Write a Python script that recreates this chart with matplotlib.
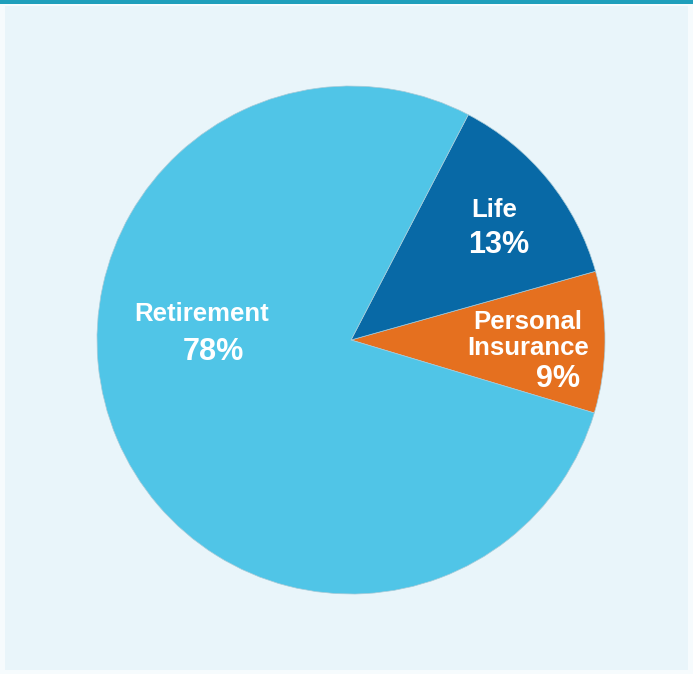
import matplotlib.pyplot as plt
from matplotlib.patches import Rectangle

# datos del grafico
labels = ["Personal\nInsurance", "Life", "Retirement"]
values = [9, 13, 78]
colors = ["#e5701f", "#0869a6", "#50c5e7"]

fig = plt.figure(figsize=(6.93, 6.74), dpi=100)
fig.patch.set_facecolor("#f6fbfd")
ax = fig.add_axes([0, 0, 1, 1])

# panel de fondo y linea superior
ax.add_patch(Rectangle((5, 4), 683, 664, facecolor="#e9f5fa", edgecolor="none", zorder=0))
ax.add_patch(Rectangle((0, 670), 693, 4, facecolor="#1f9fbb", edgecolor="none", zorder=0))

wedges, _ = ax.pie(values, colors=colors, startangle=-16.7, counterclock=True,
                   center=(351, 334), radius=254, frame=True,
                   wedgeprops=dict(linewidth=0.5, edgecolor="#a9cbd8"))
ax.set_xlim(0, 693)
ax.set_ylim(0, 674)
ax.set_aspect("equal")
ax.axis("off")

txt = dict(color="white", fontweight="bold", family="Liberation Sans")
ax.text(202, 360, "Retirement", fontsize=18.5, ha="center", va="center", **txt)
ax.text(213, 322, f"{values[2]}%", fontsize=22, ha="center", va="center", **txt)
ax.text(494, 464, "Life", fontsize=18.5, ha="center", va="center", **txt)
ax.text(499, 429, f"{values[1]}%", fontsize=22, ha="center", va="center", **txt)
ax.text(528, 352, "Personal", fontsize=18.5, ha="center", va="center", **txt)
ax.text(528, 326, "Insurance", fontsize=18.5, ha="center", va="center", **txt)
ax.text(580, 295, f"{values[0]}%", fontsize=22, ha="right", va="center", **txt)

fig.savefig("out.png", dpi=100, facecolor=fig.get_facecolor())
